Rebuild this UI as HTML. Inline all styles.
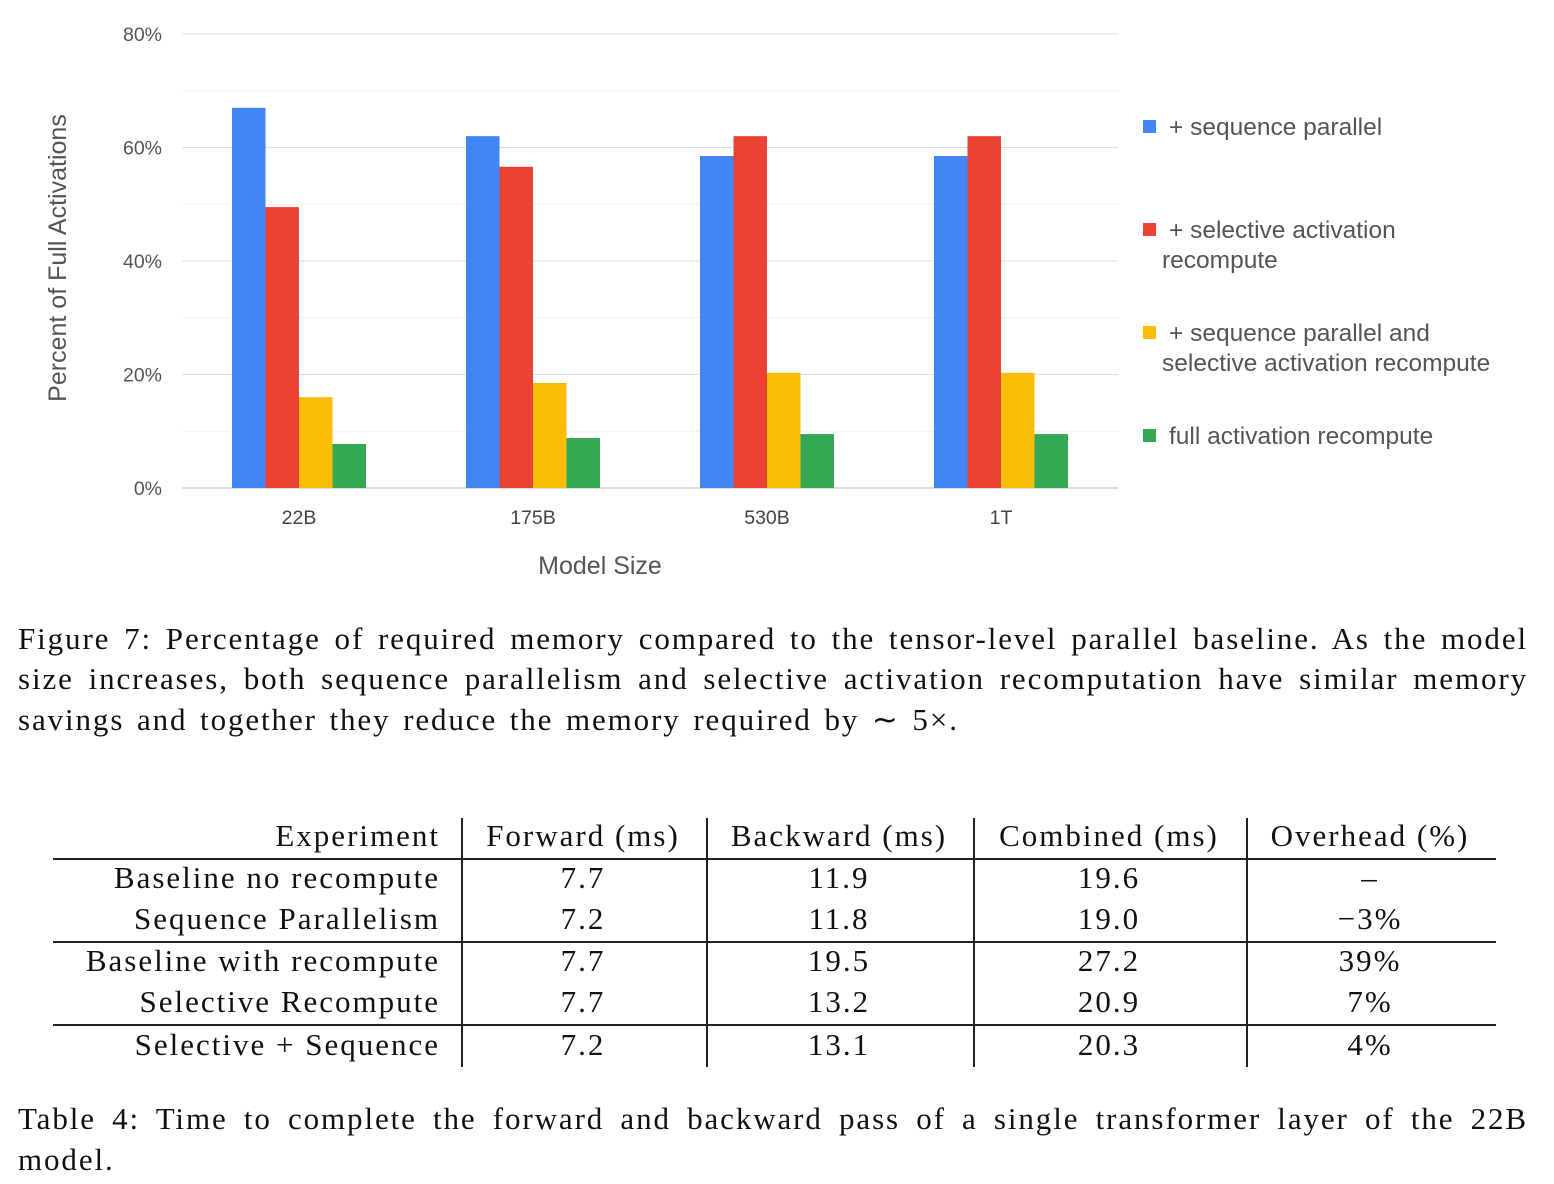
<!DOCTYPE html>
<html><head><meta charset="utf-8">
<style>
body{margin:0;width:1554px;height:1184px;background:#fff;position:relative;overflow:hidden;font-family:"Liberation Sans",sans-serif}
.cap{position:absolute;left:18px;width:1510px;font-family:"Liberation Serif",serif;font-size:31px;letter-spacing:1.9px;color:#111;text-align:justify;text-align-last:justify;white-space:nowrap;height:36px;line-height:36px}
.cap.l{text-align-last:left}
.t{position:absolute;font-family:"Liberation Serif",serif;font-size:31px;letter-spacing:2px;color:#111;line-height:36px;white-space:nowrap}
.r{text-align:right}.c{text-align:center}
.hl{position:absolute;left:53px;width:1443px;height:2px;background:#222}
.vl{position:absolute;top:818px;height:249px;width:1.5px;background:#222}
</style></head><body>
<svg id="chart" width="1554" height="600" style="position:absolute;left:0;top:0"></svg>

<div class="cap" style="top:621px">Figure 7: Percentage of required memory compared to the tensor-level parallel baseline. As the model</div>
<div class="cap" style="top:661px">size increases, both sequence parallelism and selective activation recomputation have similar memory</div>
<div class="cap l" style="top:702px;word-spacing:3px">savings and together they reduce the memory required by ∼ 5×.</div>

<div>
<div class="hl" style="top:858px"></div><div class="hl" style="top:941px"></div><div class="hl" style="top:1024px"></div>
<div class="vl" style="left:461px"></div><div class="vl" style="left:706px"></div><div class="vl" style="left:973px"></div><div class="vl" style="left:1246px"></div>
<div id="tbl"></div>
</div>

<div class="cap" style="top:1101px">Table 4: Time to complete the forward and backward pass of a single transformer layer of the 22B</div>
<div class="cap l" style="top:1142px">model.</div>

<script>
const categories=["22B","175B","530B","1T"];
const seqParallel=[67,62,58.5,58.5];
const selective=[49.5,56.6,62,62];
const seqAndSelective=[16,18.5,20.3,20.3];
const fullRecompute=[7.75,8.8,9.5,9.5];
const yTicks=[0,20,40,60,80];
const seriesNames=["+ sequence parallel","+ selective activation|recompute","+ sequence parallel and|selective activation recompute","full activation recompute"];
const colors=["#4285f4","#ea4335","#fbbc04","#34a853"];
const svg=document.getElementById('chart');
const NS="http://www.w3.org/2000/svg";
const x0=182,x1=1118,yB=488,yT=34,ymax=80;
const y=v=>yB-(v/ymax)*(yB-yT);
const band=(x1-x0)/categories.length;
const bw=33.5;
function mk(t,a,txt){const e=document.createElementNS(NS,t);for(const k in a)e.setAttribute(k,a[k]);if(txt!==undefined)e.textContent=txt;svg.appendChild(e);return e;}
for(let v=0;v<=ymax;v+=10){
  const g=mk('line',{x1:x0,x2:x1,y1:y(v),y2:y(v),stroke:v===0?'#bbb':(v%20?'#f0f0f0':'#ddd'),'stroke-width':1});
  
  
}
yTicks.forEach(v=>{
  const t=mk('text',{x:162,y:y(v)+7,'text-anchor':'end','font-size':19.5,fill:'#555','font-family':'Liberation Sans'},v+'%');
  
  
});
const series=[seqParallel,selective,seqAndSelective,fullRecompute];
categories.forEach((c,i)=>{
  const cx=x0+band*(i+0.5);
  series.forEach((s,j)=>{
    const r=mk('rect',{x:cx-2*bw+j*bw,y:y(s[i]),width:bw,height:yB-y(s[i]),fill:colors[j]});
    
    
  });
  const t=mk('text',{x:cx,y:524,'text-anchor':'middle','font-size':19.5,fill:'#444','font-family':'Liberation Sans'},c);
  
  
});
let t=mk('text',{x:600,y:574,'text-anchor':'middle','font-size':25,fill:'#555','font-family':'Liberation Sans'},'Model Size');


t=mk('text',{x:66,y:258,'text-anchor':'middle','font-size':25,fill:'#555','font-family':'Liberation Sans',transform:'rotate(-90 66 258)'},'Percent of Full Activations');


const legY=[127,230,333,436];
seriesNames.forEach((n,j)=>{
  const r=mk('rect',{x:1143,y:legY[j]-7,width:13,height:13,fill:colors[j]});
  
  
  n.split('|').forEach((ln,k)=>{
    const e=mk('text',{x:k?1162:1169,y:legY[j]+8+k*30,'font-size':24.5,fill:'#555','font-family':'Liberation Sans'},ln);
    
    
  });
});
const rows=[["Experiment","Forward (ms)","Backward (ms)","Combined (ms)","Overhead (%)"],
["Baseline no recompute","7.7","11.9","19.6","–"],
["Sequence Parallelism","7.2","11.8","19.0","−3%"],
["Baseline with recompute","7.7","19.5","27.2","39%"],
["Selective Recompute","7.7","13.2","20.9","7%"],
["Selective + Sequence","7.2","13.1","20.3","4%"]];
const rowY=[818,860,901,943,984,1027];
const colC=[0,583,839,1109,1370];
const tbl=document.getElementById('tbl');
rows.forEach((r,i)=>r.forEach((v,j)=>{
  const d=document.createElement('div');
  d.className='t '+(j?'c':'r');
  d.style.top=rowY[i]+'px';
  if(j===0){d.style.right=(1554-440)+'px';}
  else{d.style.left=(colC[j]-150)+'px';d.style.width='300px';}
  d.textContent=v;
  
  
  tbl.appendChild(d);
}));
</script>
</body></html>
